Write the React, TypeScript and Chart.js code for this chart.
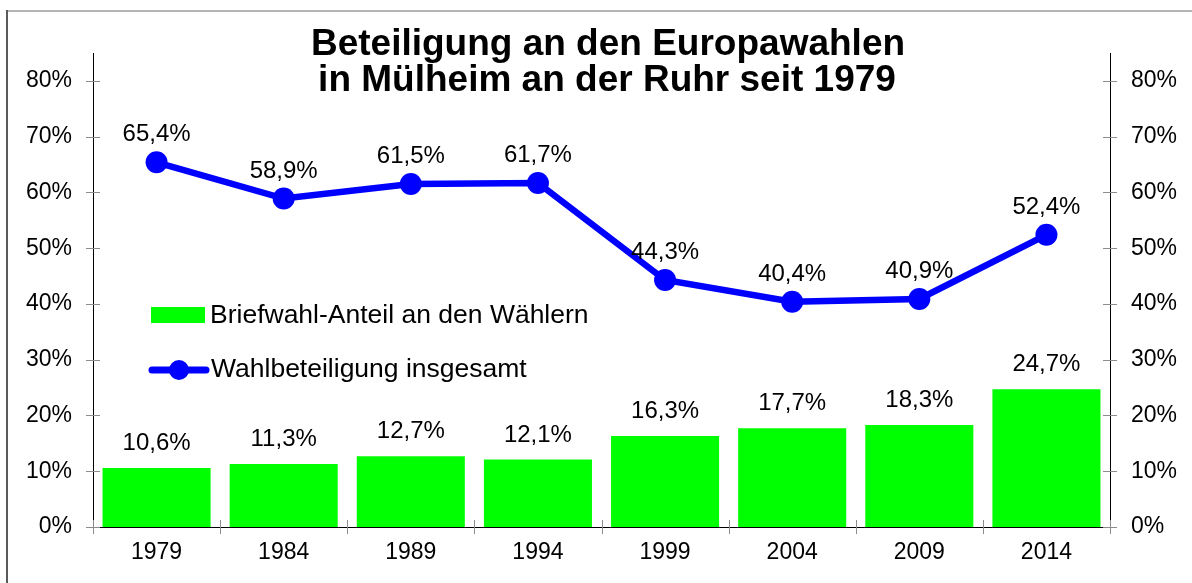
import React, { useEffect, useRef } from "react";
import { Chart, registerables } from "chart.js";

Chart.register(...registerables);

const years = ["1979", "1984", "1989", "1994", "1999", "2004", "2009", "2014"];
const briefwahlAnteil = [10.6, 11.3, 12.7, 12.1, 16.3, 17.7, 18.3, 24.7];
const wahlbeteiligung = [65.4, 58.9, 61.5, 61.7, 44.3, 40.4, 40.9, 52.4];
const yTicks = [0, 10, 20, 30, 40, 50, 60, 70, 80];
const titleLines = ["Beteiligung an den Europawahlen", "in Mülheim an der Ruhr seit 1979"];
const legendLabels = ["Briefwahl-Anteil an den Wählern", "Wahlbeteiligung insgesamt"];

const FONT = '"Liberation Sans", Arial, Helvetica, sans-serif';
const GREEN = "#00ff00";
const BLUE = "#0000ff";

const fmt = (v: number) => v.toFixed(1).replace(".", ",") + "%";

const decorPlugin = {
  id: "decor",
  afterDatasetsDraw(chart: any) {
    const ctx = chart.ctx as CanvasRenderingContext2D;
    const area = chart.chartArea;
    const yS = chart.scales.y;
    ctx.save();

    // tick marks crossing axes
    ctx.strokeStyle = "#8c8c8c";
    ctx.lineWidth = 1;
    yTicks.forEach((v) => {
      const py = Math.round(yS.getPixelForValue(v)) + 0.5;
      ctx.beginPath();
      ctx.moveTo(area.left - 7, py);
      ctx.lineTo(area.left + 7, py);
      ctx.moveTo(area.right - 7, py);
      ctx.lineTo(area.right + 7, py);
      ctx.stroke();
    });
    const n = years.length;
    for (let i = 0; i <= n; i++) {
      const px = Math.round(area.left + (i * (area.right - area.left)) / n) + 0.5;
      ctx.beginPath();
      ctx.moveTo(px, area.bottom - 7);
      ctx.lineTo(px, area.bottom + 7);
      ctx.stroke();
    }

    // data labels
    ctx.fillStyle = "#000";
    ctx.font = `24px ${FONT}`;
    ctx.textAlign = "center";
    ctx.textBaseline = "alphabetic";
    const barMeta = chart.getDatasetMeta(0);
    barMeta.data.forEach((el: any, i: number) => {
      ctx.fillText(fmt(briefwahlAnteil[i]), el.x, el.y - 18);
    });
    const lineMeta = chart.getDatasetMeta(1);
    lineMeta.data.forEach((el: any, i: number) => {
      ctx.fillText(fmt(wahlbeteiligung[i]), el.x, el.y - 21);
    });

    // legend
    ctx.fillStyle = GREEN;
    ctx.fillRect(151, 307, 54, 16);
    ctx.strokeStyle = BLUE;
    ctx.lineWidth = 7;
    ctx.lineCap = "round";
    ctx.beginPath();
    ctx.moveTo(152, 370);
    ctx.lineTo(206, 370);
    ctx.stroke();
    ctx.fillStyle = BLUE;
    ctx.beginPath();
    ctx.arc(179, 370, 10, 0, Math.PI * 2);
    ctx.fill();
    ctx.fillStyle = "#000";
    ctx.font = `26.5px ${FONT}`;
    ctx.textAlign = "left";
    ctx.textBaseline = "middle";
    ctx.fillText(legendLabels[0], 210, 316);
    ctx.fillText(legendLabels[1], 211, 370);

    // title
    ctx.font = `bold 37px ${FONT}`;
    ctx.textAlign = "center";
    ctx.textBaseline = "alphabetic";
    ctx.fillText(titleLines[0], 608, 55);
    ctx.fillText(titleLines[1], 607, 91);

    // frame
    ctx.lineCap = "butt";
    ctx.lineWidth = 2;
    ctx.strokeStyle = "#b4b4b4";
    ctx.beginPath();
    ctx.moveTo(6, 11);
    ctx.lineTo(1192, 11);
    ctx.stroke();
    ctx.strokeStyle = "#5a5a5a";
    ctx.beginPath();
    ctx.moveTo(7, 10);
    ctx.lineTo(7, 583);
    ctx.stroke();

    ctx.restore();
  },
};

export default function App() {
  const ref = useRef<HTMLCanvasElement | null>(null);
  useEffect(() => {
    if (!ref.current) return;
    const chart = new Chart(ref.current, {
      type: "bar",
      data: {
        labels: years,
        datasets: [
          {
            type: "bar",
            label: legendLabels[0],
            data: briefwahlAnteil,
            backgroundColor: GREEN,
            borderWidth: 0,
            barPercentage: 0.85,
            categoryPercentage: 1,
            yAxisID: "y",
            order: 2,
          },
          {
            type: "line",
            label: legendLabels[1],
            data: wahlbeteiligung,
            borderColor: BLUE,
            backgroundColor: BLUE,
            borderWidth: 6.5,
            pointRadius: 11,
            pointBorderWidth: 0,
            pointBackgroundColor: BLUE,
            tension: 0,
            yAxisID: "y",
            order: 1,
          },
        ] as any,
      },
      options: {
        responsive: false,
        animation: false,
        layout: { padding: { top: 53, left: 0, right: 0, bottom: 0 } },
        plugins: {
          legend: { display: false },
          title: { display: false },
          tooltip: { enabled: false },
        },
        scales: {
          x: {
            grid: { display: false, drawTicks: false },
            border: { display: true, color: "#000", width: 1 },
            ticks: { color: "#000", font: { family: FONT, size: 23 }, padding: 12 },
            afterFit: (s: any) => {
              s.height = 56;
            },
          },
          y: {
            position: "left",
            min: 0,
            max: 85,
            grid: { display: false, drawTicks: false },
            border: { display: true, color: "#000", width: 1 },
            afterBuildTicks: (s: any) => {
              s.ticks = yTicks.map((v) => ({ value: v }));
            },
            ticks: {
              color: "#000",
              font: { family: FONT, size: 23 },
              padding: 21,
              callback: (v: any) => v + "%",
            },
            afterFit: (s: any) => {
              s.width = 93;
            },
          },
          y2: {
            position: "right",
            min: 0,
            max: 85,
            grid: { display: false, drawTicks: false },
            border: { display: true, color: "#000", width: 1 },
            afterBuildTicks: (s: any) => {
              s.ticks = yTicks.map((v) => ({ value: v }));
            },
            ticks: {
              color: "#000",
              font: { family: FONT, size: 23 },
              padding: 21,
              callback: (v: any) => v + "%",
            },
            afterFit: (s: any) => {
              s.width = 82;
            },
          },
        },
      } as any,
      plugins: [decorPlugin],
    });
    return () => chart.destroy();
  }, []);
  return (
    <div style={{ position: "absolute", left: 0, top: 0, width: 1192, height: 583, background: "#fff" }}>
      <canvas ref={ref} width={1192} height={583} style={{ display: "block" }} />
    </div>
  );
}
